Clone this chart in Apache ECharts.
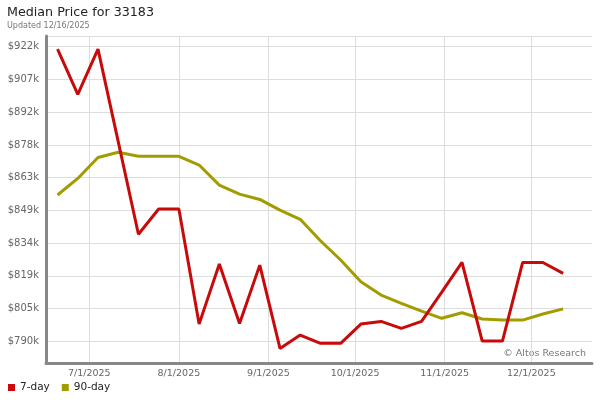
<!DOCTYPE html>
<html>
<head>
<meta charset="utf-8">
<script src="https://cdn.jsdelivr.net/npm/echarts@6/dist/echarts.min.js"></script>
<style>html,body{margin:0;padding:0;background:#fff}#c{width:600px;height:400px}</style>
</head>
<body>
<div id="c"></div>
<script>
// Weekly data points (dates) and values in $ thousands
const dates = ['2025-06-20','2025-06-27','2025-07-04','2025-07-11','2025-07-18','2025-07-25','2025-08-01','2025-08-08','2025-08-15','2025-08-22','2025-08-29','2025-09-05','2025-09-12','2025-09-19','2025-09-26','2025-10-03','2025-10-10','2025-10-17','2025-10-24','2025-10-31','2025-11-07','2025-11-14','2025-11-21','2025-11-28','2025-12-05','2025-12-12'];
const sevenDay = [920.7, 900.4, 920.7, 879.3, 837.8, 849.1, 849.1, 797.6, 824.5, 797.9, 824.0, 786.7, 792.7, 789.0, 789.0, 797.6, 798.8, 795.7, 798.8, 811.9, 825.2, 790.0, 790.0, 825.2, 825.2, 820.3];
const ninetyDay = [855.4, 862.8, 872.2, 874.5, 872.7, 872.7, 872.7, 868.8, 859.8, 855.8, 853.4, 848.6, 844.5, 834.9, 826.3, 816.6, 810.6, 806.9, 803.4, 800.2, 802.7, 799.9, 799.4, 799.4, 802.1, 804.4];
// Axis tick values
const yTicks = [789.9, 804.55, 819.2, 833.85, 848.5, 863.15, 877.8, 892.45, 907.1, 921.75];
const yMin = 780.19, yMax = 926.56;
const xTickDates = ['2025-07-01','2025-08-01','2025-09-01','2025-10-01','2025-11-01','2025-12-01'];

function ts(s){const p=s.split('-').map(Number);return Date.UTC(p[0],p[1]-1,p[2],5);}
const xTicks = xTickDates.map(ts);
const FONT = 'DejaVu Sans';

const chart = echarts.init(document.getElementById('c'), null, {renderer:'canvas'});
chart.setOption({
  animation:false,
  backgroundColor:'#fff',
  textStyle:{fontFamily:FONT},
  title:{
    text:'Median Price for 33183',
    subtext:'Updated 12/16/2025',
    left:2, top:1,
    itemGap:3,
    textStyle:{fontFamily:FONT,fontSize:12.7,fontWeight:'normal',color:'#222'},
    subtextStyle:{fontFamily:FONT,fontSize:8,color:'#777'}
  },
  legend:{
    left:3, top:377,
    icon:'rect', itemWidth:7, itemHeight:7, itemGap:12,
    textStyle:{fontFamily:FONT,fontSize:10.5,color:'#222'},
    data:['7-day','90-day']
  },
  grid:{left:46,right:8,top:36,bottom:37,containLabel:false},
  xAxis:{
    type:'value',
    min:Date.UTC(2025,5,16,5), max:Date.UTC(2025,11,22,5),
    axisLine:{show:true,lineStyle:{color:'#888',width:3}},
    axisTick:{show:false,customValues:xTicks},
    splitLine:{show:true,customValues:xTicks,lineStyle:{color:'#ddd',width:1}},
    axisLabel:{
      customValues:xTicks, margin:6,
      fontFamily:FONT,fontSize:9.5,color:'#666',
      formatter:function(v){const d=new Date(v);return (d.getUTCMonth()+1)+'/'+d.getUTCDate()+'/'+d.getUTCFullYear();}
    }
  },
  yAxis:{
    type:'value', min:yMin, max:yMax,
    axisLine:{show:true,lineStyle:{color:'#888',width:3}},
    axisTick:{show:false,customValues:yTicks.concat([yMax])},
    splitLine:{show:true,customValues:yTicks.concat([yMax]),lineStyle:{color:'#ddd',width:1}},
    axisLabel:{
      customValues:yTicks, margin:7,
      fontFamily:FONT,fontSize:10,color:'#666',
      formatter:function(v){return '$'+Math.round(v)+'k';}
    }
  },
  graphic:[{
    type:'text', right:14, top:349,
    style:{text:'© Altos Research',fill:'#777',font:'9.5px "DejaVu Sans"'}
  }],
  series:[
    {name:'7-day',type:'line',symbol:'none',color:'#c80a0a',lineStyle:{width:3,color:'#c80a0a'},
     data:dates.map((d,i)=>[ts(d),sevenDay[i]]),z:3},
    {name:'90-day',type:'line',symbol:'none',color:'#a29c00',lineStyle:{width:3,color:'#a29c00'},
     data:dates.map((d,i)=>[ts(d),ninetyDay[i]]),z:2}
  ]
});
</script>
</body>
</html>
